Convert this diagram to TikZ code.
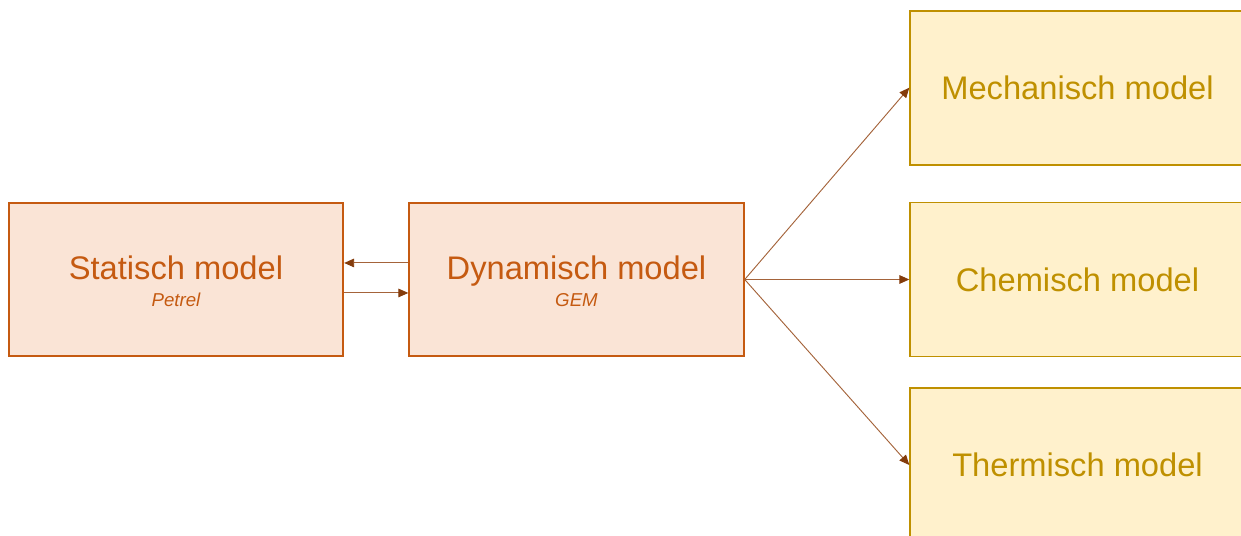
\documentclass[tikz,border=0pt]{standalone}
\usepackage{fontspec}
\setmainfont{Liberation Sans}
\usetikzlibrary{arrows.meta}

\definecolor{orangefill}{HTML}{FAE4D6}
\definecolor{orangeline}{HTML}{C55A11}
\definecolor{goldfill}{HTML}{FFF1CC}
\definecolor{goldline}{HTML}{BF9000}
\definecolor{linkline}{HTML}{A4633A}
\definecolor{linkhead}{HTML}{843C0C}

\tikzset{
  orangebox/.style={draw=orangeline, fill=orangefill, line width=1.3pt,
    minimum width=251pt, minimum height=114.8pt, inner sep=0pt},
  goldbox/.style={draw=goldline, fill=goldfill, line width=1.3pt,
    minimum width=251pt, minimum height=115.5pt, inner sep=0pt,
    text=goldline, font=\fontsize{24.5}{29}\selectfont},
  title/.style={text=orangeline, font=\fontsize{24.5}{29}\selectfont,
    anchor=base, inner sep=0pt},
  subtitle/.style={text=orangeline, font=\fontsize{14}{17}\selectfont\itshape,
    anchor=base, inner sep=0pt},
  link/.style={draw=linkline, line width=0.7pt,
    -{Triangle[length=7.5pt,width=6.5pt,color=linkhead,fill=linkhead]}},
}

\begin{document}
\begin{tikzpicture}[x=0.75pt, y=0.75pt]
  \useasboundingbox (0,0) rectangle (1241,535);
  \clip (0,0) rectangle (1241,535);

  % source models
  \node[orangebox] (stat) at (176,255.5) {};
  \node[title]    (stat-title) at (176,255) {Statisch model};
  \node[subtitle] (stat-sub)   at (176,228.5) {Petrel};

  \node[orangebox] (dyn) at (576.5,255.5) {};
  \node[title]    (dyn-title) at (576.5,255) {Dynamisch model};
  \node[subtitle] (dyn-sub)   at (576.5,228.5) {GEM};

  % coupled models
  \node[goldbox] (mech)  at (1077.5,447.3) {Mechanisch model};
  \node[goldbox] (chem)  at (1077.5,255.5) {Chemisch model};
  \node[goldbox] (therm) at (1077.5,70)    {Thermisch model};

  % exchange between static and dynamic model
  \draw[link] ([yshift=12.4pt]dyn.west) -- ([yshift=12.4pt]stat.east);
  \draw[link] ([yshift=-10.1pt]stat.east) -- ([yshift=-10.1pt]dyn.west);

  % dynamic model feeds the coupled models
  \draw[link] (dyn.east) -- (mech.west);
  \draw[link] (dyn.east) -- (chem.west);
  \draw[link] (dyn.east) -- (therm.west);
\end{tikzpicture}
\end{document}
